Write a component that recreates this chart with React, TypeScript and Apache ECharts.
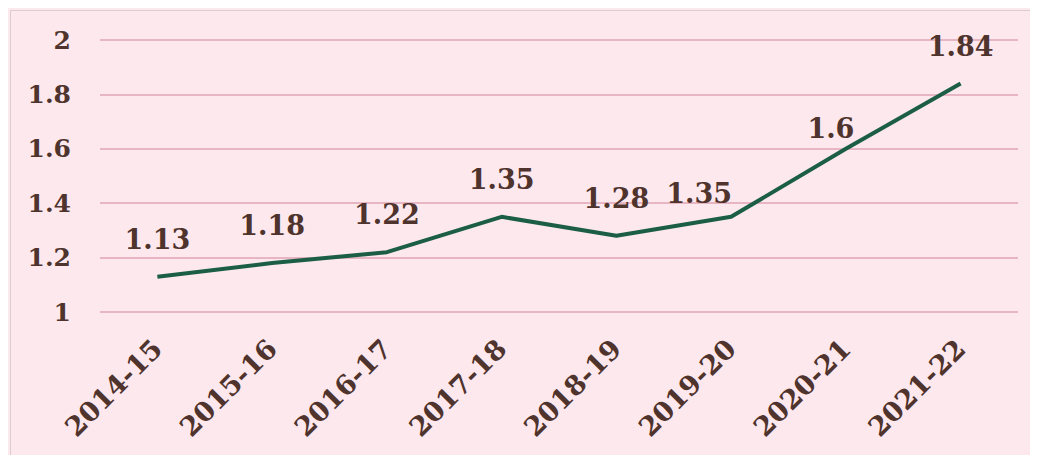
import React, { useEffect, useRef } from "react";
import * as echarts from "echarts";

const categories = ["2014-15", "2015-16", "2016-17", "2017-18", "2018-19", "2019-20", "2020-21", "2021-22"];
const values = [1.13, 1.18, 1.22, 1.35, 1.28, 1.35, 1.6, 1.84];
const yTicks = [1, 1.2, 1.4, 1.6, 1.8, 2];

const TEXT = "#4f332d";
const FONT = "'DejaVu Serif', serif";

// manual label nudges for labels that sit off-centre in the reference
const labelNudge: Record<string, [number, number]> = {
  "2019-20": [-32, 14],
  "2020-21": [-15, 17],
};

export default function App() {
  const ref = useRef<HTMLDivElement>(null);
  useEffect(() => {
    if (!ref.current) return;
    const chart = echarts.init(ref.current, undefined, { renderer: "svg" });
    chart.setOption({
      animation: false,
      backgroundColor: "#fde8ee",
      graphic: [
        {
          type: "rect",
          left: 0,
          top: 0,
          shape: { x: 0.5, y: 0.5, width: 1021, height: 446 },
          style: { fill: "none", stroke: "#d8cdd0", lineWidth: 1 },
          silent: true,
        },
      ],
      grid: { left: 92, right: 12, top: 32, bottom: 143 },
      xAxis: {
        type: "category",
        data: categories,
        boundaryGap: true,
        axisLine: { show: false },
        axisTick: { show: false },
        axisLabel: {
          rotate: 45,
          margin: 32,
          color: TEXT,
          fontFamily: FONT,
          fontWeight: "bold",
          fontSize: 27,
        },
      },
      yAxis: {
        type: "value",
        min: yTicks[0],
        max: yTicks[yTicks.length - 1],
        interval: 0.2,
        axisLine: { show: false },
        axisTick: { show: false },
        splitLine: { lineStyle: { color: "#e8b5c2", width: 2 } },
        axisLabel: {
          margin: 29,
          color: TEXT,
          fontFamily: FONT,
          fontWeight: "bold",
          fontSize: 25,
          formatter: (v: number) => String(Math.round(v * 10) / 10),
        },
      },
      series: [
        {
          type: "line",
          data: values.map((v, i) => {
            const n = labelNudge[categories[i]];
            return n ? { value: v, label: { offset: n } } : v;
          }),
          showSymbol: true,
          showAllSymbol: true,
          symbol: "circle",
          symbolSize: 2,
          itemStyle: { color: "rgba(0,0,0,0)", borderWidth: 0 },
          lineStyle: { color: "#1b5e45", width: 4 },
          label: {
            show: true,
            position: "top",
            distance: 23,
            color: TEXT,
            fontFamily: FONT,
            fontWeight: "bold",
            fontSize: 27,
            formatter: (p: any) => String(p.value),
          },
        },
      ],
    });
    return () => chart.dispose();
  }, []);
  return <div ref={ref} style={{ width: 1022, height: 447 }} />;
}
